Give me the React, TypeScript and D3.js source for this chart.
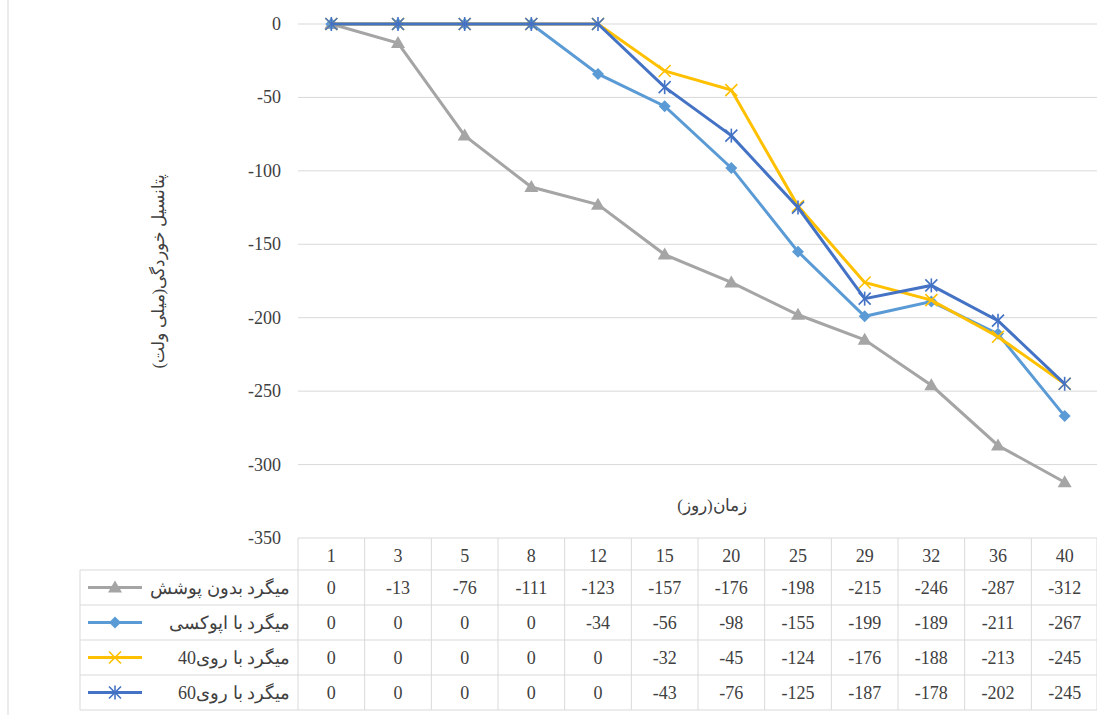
import * as d3 from 'd3';

const days = ['1', '3', '5', '8', '12', '15', '20', '25', '29', '32', '36', '40'];
const names = ['میگرد بدون پوشش', 'میگرد با اپوکسی', 'میگرد با روی40', 'میگرد با روی60'];
const noCoat = [0, -13, -76, -111, -123, -157, -176, -198, -215, -246, -287, -312];
const epoxy = [0, 0, 0, 0, -34, -56, -98, -155, -199, -189, -211, -267];
const zinc40 = [0, 0, 0, 0, 0, -32, -45, -124, -176, -188, -213, -245];
const zinc60 = [0, 0, 0, 0, 0, -43, -76, -125, -187, -178, -202, -245];
const yTicks = [0, -50, -100, -150, -200, -250, -300, -350];

const series = [noCoat, epoxy, zinc40, zinc60];
const colors = ['#a5a5a5', '#5b9bd5', '#ffc000', '#4472c4'];
const markers = ['tri', 'dia', 'x', 'star'];

function Marker({ kind, x, y, color }: { kind: string; x: number; y: number; color: string }) {
  if (kind === 'tri') return <path d={`M${x},${y - 7}L${x + 7},${y + 5}L${x - 7},${y + 5}Z`} fill={color} />;
  if (kind === 'dia') return <path d={`M${x},${y - 6}L${x + 6},${y}L${x},${y + 6}L${x - 6},${y}Z`} fill={color} />;
  const xs = <path d={`M${x - 6},${y - 6}L${x + 6},${y + 6}M${x - 6},${y + 6}L${x + 6},${y - 6}`} stroke={color} strokeWidth={1.6} />;
  if (kind === 'x') return xs;
  return <g>{xs}<path d={`M${x},${y - 7}V${y + 7}`} stroke={color} strokeWidth={1.6} /></g>;
}

export default function App() {
  const W = 1097, H = 715;
  const left = 298, right = 1098, top = 24, bottom = 538;
  const x = d3.scaleBand().domain(days).range([left, right]);
  const y = d3.scaleLinear().domain([-350, 0]).range([bottom, top]);
  const line = d3.line<number>().x((_, i) => x(days[i])! + x.bandwidth() / 2).y((d) => y(d));
  const rowH = 35;
  const tableTop = 538, headH = 32;
  const tableLeft = 80;
  const font = "'Liberation Serif', 'Times New Roman', serif";
  const grid = '#d9d9d9';
  return (
    <svg width={W} height={H} style={{ position: 'absolute', left: 0, top: 0 }} fontFamily={font}>
      <rect width={W} height={H} fill="#fff" />
      <line x1={8} x2={8} y1={0} y2={H} stroke={grid} />
      {yTicks.map((t) => (
        <g key={t}>
          <line x1={left} x2={right} y1={y(t)} y2={y(t)} stroke={grid} />
          <text x={281} y={y(t) + 6} textAnchor="end" fontSize={18} fill="#404040">{t}</text>
        </g>
      ))}
      <text transform={`translate(164,${(top + bottom) / 2 - 10}) rotate(-90)`} textAnchor="middle" fontSize={17} fill="#404040" direction="rtl">پتانسیل خوردگی(میلی ولت)</text>
      <text x={712} y={511} textAnchor="middle" fontSize={17} fill="#404040" direction="rtl">زمان(روز)</text>
      {/* table */}
      {days.map((d) => (
        <line key={d} x1={x(d)!} x2={x(d)!} y1={tableTop} y2={tableTop + headH + rowH * 4} stroke={grid} />
      ))}
      <line x1={right - 1} x2={right - 1} y1={tableTop} y2={tableTop + headH + rowH * 4} stroke={grid} />
      {[0, 1, 2, 3, 4].map((r) => (
        <line key={r} x1={tableLeft} x2={right} y1={tableTop + headH + r * rowH} y2={tableTop + headH + r * rowH} stroke={grid} />
      ))}
      <line x1={tableLeft} x2={tableLeft} y1={tableTop + headH} y2={tableTop + headH + rowH * 4} stroke={grid} />
      {days.map((d) => (
        <text key={d} x={x(d)! + x.bandwidth() / 2} y={tableTop + 24} textAnchor="middle" fontSize={18} fill="#404040">{d}</text>
      ))}
      {series.map((s, si) => {
        const cy = tableTop + headH + si * rowH + rowH / 2;
        return (
          <g key={si}>
            <line x1={88} x2={142} y1={cy} y2={cy} stroke={colors[si]} strokeWidth={3} />
            <Marker kind={markers[si]} x={115} y={cy} color={colors[si]} />
            <text x={290} y={cy + 6} textAnchor="start" fontSize={18} fill="#404040" direction="rtl">{names[si]}</text>
            {s.map((v, i) => (
              <text key={i} x={x(days[i])! + x.bandwidth() / 2} y={cy + 6} textAnchor="middle" fontSize={18} fill="#404040">{v}</text>
            ))}
          </g>
        );
      })}
      {series.map((s, si) => (
        <g key={si}>
          <path d={line(s)!} fill="none" stroke={colors[si]} strokeWidth={3} />
          {s.map((v, i) => (
            <Marker key={i} kind={markers[si]} x={x(days[i])! + x.bandwidth() / 2} y={y(v)} color={colors[si]} />
          ))}
        </g>
      ))}
    </svg>
  );
}
